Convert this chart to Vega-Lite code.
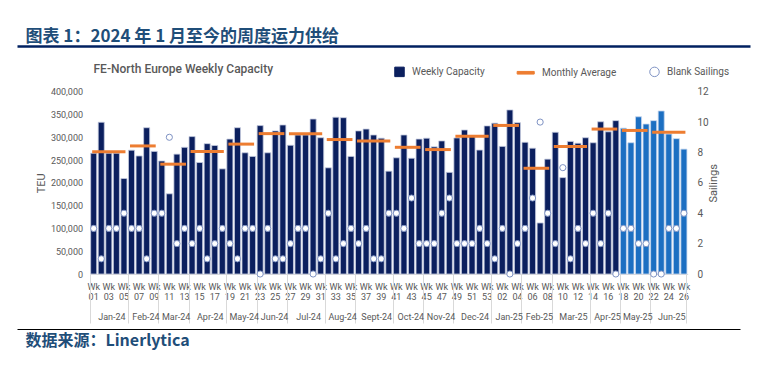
{
  "$schema": "https://vega.github.io/schema/vega-lite/v6.json",
  "width": 733,
  "height": 283,
  "autosize": {"type": "none"},
  "padding": {"left": 17, "top": 46, "right": 20, "bottom": 44},
  "background": "white",
  "config": {"view": {"stroke": null}, "axis": {"labelFont": "Roboto", "titleFont": "Roboto", "grid": false}},
  "datasets": {
    "weeks": [
      {"w": "24-01", "teu": 265000, "blank": 3, "type": "Actual"},
      {"w": "24-02", "teu": 333000, "blank": 1, "type": "Actual"},
      {"w": "24-03", "teu": 265000, "blank": 3, "type": "Actual"},
      {"w": "24-04", "teu": 265000, "blank": 3, "type": "Actual"},
      {"w": "24-05", "teu": 209500, "blank": 4, "type": "Actual"},
      {"w": "24-06", "teu": 271600, "blank": 3, "type": "Actual"},
      {"w": "24-07", "teu": 259000, "blank": 3, "type": "Actual"},
      {"w": "24-08", "teu": 321000, "blank": 1, "type": "Actual"},
      {"w": "24-09", "teu": 269000, "blank": 4, "type": "Actual"},
      {"w": "24-10", "teu": 248000, "blank": 4, "type": "Actual"},
      {"w": "24-11", "teu": 176000, "blank": 9, "type": "Actual"},
      {"w": "24-12", "teu": 263000, "blank": 2, "type": "Actual"},
      {"w": "24-13", "teu": 278000, "blank": 3, "type": "Actual"},
      {"w": "24-14", "teu": 301500, "blank": 2, "type": "Actual"},
      {"w": "24-15", "teu": 244600, "blank": 3, "type": "Actual"},
      {"w": "24-16", "teu": 286000, "blank": 1, "type": "Actual"},
      {"w": "24-17", "teu": 282000, "blank": 2, "type": "Actual"},
      {"w": "24-18", "teu": 230700, "blank": 3, "type": "Actual"},
      {"w": "24-19", "teu": 296000, "blank": 2, "type": "Actual"},
      {"w": "24-20", "teu": 321000, "blank": 1, "type": "Actual"},
      {"w": "24-21", "teu": 266000, "blank": 3, "type": "Actual"},
      {"w": "24-22", "teu": 258000, "blank": 3, "type": "Actual"},
      {"w": "24-23", "teu": 325600, "blank": 0, "type": "Actual"},
      {"w": "24-24", "teu": 266000, "blank": 3, "type": "Actual"},
      {"w": "24-25", "teu": 314000, "blank": 1, "type": "Actual"},
      {"w": "24-26", "teu": 327000, "blank": 1, "type": "Actual"},
      {"w": "24-27", "teu": 282500, "blank": 2, "type": "Actual"},
      {"w": "24-28", "teu": 305000, "blank": 3, "type": "Actual"},
      {"w": "24-29", "teu": 305000, "blank": 3, "type": "Actual"},
      {"w": "24-30", "teu": 340000, "blank": 0, "type": "Actual"},
      {"w": "24-31", "teu": 299000, "blank": 1, "type": "Actual"},
      {"w": "24-32", "teu": 233000, "blank": 4, "type": "Actual"},
      {"w": "24-33", "teu": 344000, "blank": 1, "type": "Actual"},
      {"w": "24-34", "teu": 343000, "blank": 2, "type": "Actual"},
      {"w": "24-35", "teu": 258000, "blank": 3, "type": "Actual"},
      {"w": "24-36", "teu": 314000, "blank": 2, "type": "Actual"},
      {"w": "24-37", "teu": 318000, "blank": 3, "type": "Actual"},
      {"w": "24-38", "teu": 305000, "blank": 1, "type": "Actual"},
      {"w": "24-39", "teu": 298000, "blank": 1, "type": "Actual"},
      {"w": "24-40", "teu": 225600, "blank": 4, "type": "Actual"},
      {"w": "24-41", "teu": 255000, "blank": 4, "type": "Actual"},
      {"w": "24-42", "teu": 305000, "blank": 3, "type": "Actual"},
      {"w": "24-43", "teu": 254000, "blank": 5, "type": "Actual"},
      {"w": "24-44", "teu": 296000, "blank": 2, "type": "Actual"},
      {"w": "24-45", "teu": 298000, "blank": 2, "type": "Actual"},
      {"w": "24-46", "teu": 279000, "blank": 2, "type": "Actual"},
      {"w": "24-47", "teu": 292000, "blank": 4, "type": "Actual"},
      {"w": "24-48", "teu": 223000, "blank": 5, "type": "Actual"},
      {"w": "24-49", "teu": 298600, "blank": 2, "type": "Actual"},
      {"w": "24-50", "teu": 316000, "blank": 2, "type": "Actual"},
      {"w": "24-51", "teu": 304000, "blank": 2, "type": "Actual"},
      {"w": "24-52", "teu": 272000, "blank": 3, "type": "Actual"},
      {"w": "24-53", "teu": 325000, "blank": 2, "type": "Actual"},
      {"w": "25-01", "teu": 331000, "blank": 1, "type": "Actual"},
      {"w": "25-02", "teu": 280000, "blank": 3, "type": "Actual"},
      {"w": "25-03", "teu": 360000, "blank": 0, "type": "Actual"},
      {"w": "25-04", "teu": 332000, "blank": 2, "type": "Actual"},
      {"w": "25-05", "teu": 289000, "blank": 3, "type": "Actual"},
      {"w": "25-06", "teu": 276000, "blank": 5, "type": "Actual"},
      {"w": "25-07", "teu": 112000, "blank": 10, "type": "Actual"},
      {"w": "25-08", "teu": 252000, "blank": 4, "type": "Actual"},
      {"w": "25-09", "teu": 311000, "blank": 2, "type": "Actual"},
      {"w": "25-10", "teu": 211500, "blank": 7, "type": "Actual"},
      {"w": "25-11", "teu": 291000, "blank": 1, "type": "Actual"},
      {"w": "25-12", "teu": 287000, "blank": 3, "type": "Actual"},
      {"w": "25-13", "teu": 299000, "blank": 2, "type": "Actual"},
      {"w": "25-14", "teu": 288000, "blank": 4, "type": "Actual"},
      {"w": "25-15", "teu": 334000, "blank": 2, "type": "Actual"},
      {"w": "25-16", "teu": 312000, "blank": 4, "type": "Actual"},
      {"w": "25-17", "teu": 336500, "blank": 0, "type": "Actual"},
      {"w": "25-18", "teu": 320000, "blank": 3, "type": "Forecast"},
      {"w": "25-19", "teu": 288000, "blank": 3, "type": "Forecast"},
      {"w": "25-20", "teu": 345000, "blank": 2, "type": "Forecast"},
      {"w": "25-21", "teu": 329000, "blank": 2, "type": "Forecast"},
      {"w": "25-22", "teu": 336500, "blank": 0, "type": "Forecast"},
      {"w": "25-23", "teu": 357700, "blank": 0, "type": "Forecast"},
      {"w": "25-24", "teu": 307000, "blank": 3, "type": "Forecast"},
      {"w": "25-25", "teu": 297000, "blank": 3, "type": "Forecast"},
      {"w": "25-26", "teu": 274000, "blank": 4, "type": "Forecast"}
    ],
    "months": [
      {"month": "Jan-24", "start": "24-01", "end": "24-05", "avg": 268000},
      {"month": "Feb-24", "start": "24-06", "end": "24-09", "avg": 281000},
      {"month": "Mar-24", "start": "24-10", "end": "24-13", "avg": 241000},
      {"month": "Apr-24", "start": "24-14", "end": "24-18", "avg": 269000},
      {"month": "May-24", "start": "24-19", "end": "24-22", "avg": 285000},
      {"month": "Jun-24", "start": "24-23", "end": "24-26", "avg": 308000},
      {"month": "Jul-24", "start": "24-27", "end": "24-31", "avg": 308000},
      {"month": "Aug-24", "start": "24-32", "end": "24-35", "avg": 295000},
      {"month": "Sept-24", "start": "24-36", "end": "24-40", "avg": 292000},
      {"month": "Oct-24", "start": "24-41", "end": "24-44", "avg": 278000},
      {"month": "Nov-24", "start": "24-45", "end": "24-48", "avg": 273000},
      {"month": "Dec-24", "start": "24-49", "end": "24-53", "avg": 302000},
      {"month": "Jan-25", "start": "25-01", "end": "25-04", "avg": 326000},
      {"month": "Feb-25", "start": "25-05", "end": "25-08", "avg": 232000},
      {"month": "Mar-25", "start": "25-09", "end": "25-13", "avg": 280000},
      {"month": "Apr-25", "start": "25-14", "end": "25-17", "avg": 318000},
      {"month": "May-25", "start": "25-18", "end": "25-21", "avg": 315000},
      {"month": "Jun-25", "start": "25-22", "end": "25-26", "avg": 311000}
    ]
  },
  "layer": [
    {
      "layer": [
        {
          "layer": [
            {
              "data": {"name": "weeks"},
              "transform": [{"filter": "datum.type == 'Actual'"}],
              "mark": {"type": "bar", "color": "#0b1f5e", "stroke": "#c5cbe0", "strokeWidth": 0.8},
              "encoding": {
                "x": {"field": "w", "type": "ordinal", "sort": "ascending",
                  "scale": {"range": [72.9, 670.7], "paddingInner": 0.2, "paddingOuter": 0.1},
                  "axis": {"orient": "bottom", "offset": -55, "title": null, "ticks": false, "domain": true, "domainColor": "#d9d9d9", "labelAngle": 0, "labelFontSize": 9, "labelColor": "#595959", "labelPadding": 8, "labelLineHeight": 10, "labelOverlap": false, "labelFlush": false, "labelBound": false,
                    "labelExpr": "(toNumber(slice(datum.value,3)) % 2) == (slice(datum.value,0,2) == '24' ? 1 : 0) ? ['Wk', slice(datum.value,3)] : ''"}},
                "y": {"field": "teu", "type": "quantitative",
                  "scale": {"domain": [0, 400000], "range": [228, 45.7], "nice": false},
                  "axis": {"orient": "left", "offset": -72.5, "values": [0, 50000, 100000, 150000, 200000, 250000, 300000, 350000, 400000], "labelExpr": "format(datum.value, ',')", "ticks": false, "domain": false, "grid": false, "labelFontSize": 9, "labelColor": "#595959", "labelPadding": 7, "title": "TEU", "titleColor": "#595959", "titleFontSize": 11, "titleFontWeight": "normal", "titlePadding": 4}}
              }
            },
            {
              "data": {"name": "weeks"},
              "transform": [{"filter": "datum.type == 'Forecast'"}],
              "mark": {"type": "bar", "color": "#1c6fc2", "stroke": "#c5d6ee", "strokeWidth": 0.8},
              "encoding": {
                "x": {"field": "w", "type": "ordinal", "axis": null},
                "y": {"field": "teu", "type": "quantitative",
                  "axis": {"orient": "left", "offset": -72.5, "values": [0, 50000, 100000, 150000, 200000, 250000, 300000, 350000, 400000], "labelExpr": "format(datum.value, ',')", "ticks": false, "domain": false, "grid": false, "labelFontSize": 9, "labelColor": "#595959", "labelPadding": 7, "title": "TEU", "titleColor": "#595959", "titleFontSize": 11, "titleFontWeight": "normal", "titlePadding": 4}}
              }
            },
            {
              "data": {"name": "months"},
              "mark": {"type": "rule", "color": "#ed7d31", "strokeWidth": 3, "strokeCap": "square"},
              "encoding": {
                "x": {"field": "start", "type": "ordinal",
                  "axis": {"orient": "bottom", "offset": -55, "title": null, "domain": false, "ticks": true, "tickSize": 49, "tickColor": "#d9d9d9", "tickWidth": 1, "bandPosition": 0,
                    "values": ["24-01", "24-06", "24-10", "24-14", "24-19", "24-23", "24-27", "24-32", "24-36", "24-41", "24-45", "24-49", "25-01", "25-05", "25-09", "25-14", "25-18", "25-22"],
                    "labelAngle": 0, "labelAlign": "center", "labelBaseline": "top", "labelFontSize": 9, "labelColor": "#595959", "labelPadding": -11, "labelOverlap": false, "labelFlush": false, "labelBound": false,
                    "labelOffset": {"condition": {"test": "indexof(['24-01','24-14','24-27','24-36','24-49','25-09','25-22'], datum.value) >= 0", "value": 18.2}, "value": 14.4},
                    "labelExpr": "({'24-01':'Jan-24','24-06':'Feb-24','24-10':'Mar-24','24-14':'Apr-24','24-19':'May-24','24-23':'Jun-24','24-27':'Jul-24','24-32':'Aug-24','24-36':'Sept-24','24-41':'Oct-24','24-45':'Nov-24','24-49':'Dec-24','25-01':'Jan-25','25-05':'Feb-25','25-09':'Mar-25','25-14':'Apr-25','25-18':'May-25','25-22':'Jun-25'})[datum.value]"}},
                "x2": {"field": "end"},
                "y": {"field": "avg", "type": "quantitative",
                  "axis": {"orient": "left", "offset": -72.5, "values": [0, 50000, 100000, 150000, 200000, 250000, 300000, 350000, 400000], "labelExpr": "format(datum.value, ',')", "ticks": false, "domain": false, "grid": false, "labelFontSize": 9, "labelColor": "#595959", "labelPadding": 7, "title": "TEU", "titleColor": "#595959", "titleFontSize": 11, "titleFontWeight": "normal", "titlePadding": 4}}
              }
            }
          ],
          "resolve": {"axis": {"x": "independent"}}
        },
        {
          "data": {"name": "weeks"},
          "mark": {"type": "point", "filled": true, "fill": "white", "stroke": "#7f93c4", "strokeWidth": 1, "size": 38, "opacity": 1},
          "encoding": {
            "x": {"field": "w", "type": "ordinal",
              "axis": {"orient": "bottom", "offset": -55, "title": null, "values": ["25-26"], "bandPosition": 1, "labels": false, "domain": false, "ticks": true, "tickSize": 49, "tickColor": "#d9d9d9", "tickWidth": 1}},
            "y": {"field": "blank", "type": "quantitative",
              "scale": {"domain": [0, 12], "range": [228, 45.7], "nice": false},
              "axis": {"orient": "right", "offset": -61, "values": [0, 2, 4, 6, 8, 10, 12], "ticks": false, "domain": false, "grid": false, "labelFontSize": 10, "labelColor": "#595959", "labelPadding": 8, "title": "Sailings", "titleAngle": -90, "titleColor": "#595959", "titleFontSize": 11, "titleFontWeight": "normal", "titlePadding": 10}}
          }
        }
      ],
      "resolve": {"scale": {"y": "independent"}, "axis": {"x": "independent", "y": "independent"}}
    },
    {
      "data": {"values": [{"s": "Weekly Capacity"}, {"s": "Monthly Average"}, {"s": "Blank Sailings"}]},
      "mark": {"type": "point", "filled": true, "opacity": 0},
      "encoding": {
        "shape": {"field": "s", "type": "nominal",
          "scale": {"domain": ["Weekly Capacity", "Monthly Average", "Blank Sailings"], "range": ["square", "M-2.6,-0.28H1V0.28H-2.6Z", "circle"]},
          "legend": {"title": null, "orient": "none", "legendX": 377, "legendY": 20, "direction": "horizontal", "symbolSize": 90, "symbolStrokeWidth": 1, "symbolOpacity": 1, "labelFontSize": 10, "labelFont": "Roboto", "labelColor": "#595959", "columnPadding": 30, "labelOffset": 7}},
        "fill": {"field": "s", "type": "nominal",
          "scale": {"domain": ["Weekly Capacity", "Monthly Average", "Blank Sailings"], "range": ["#0b1f5e", "#ed7d31", "#ffffff"]},
          "legend": {"title": null, "orient": "none", "legendX": 377, "legendY": 20, "direction": "horizontal", "symbolSize": 90, "symbolStrokeWidth": 1, "symbolOpacity": 1, "labelFontSize": 10, "labelFont": "Roboto", "labelColor": "#595959", "columnPadding": 30, "labelOffset": 7}},
        "stroke": {"field": "s", "type": "nominal",
          "scale": {"domain": ["Weekly Capacity", "Monthly Average", "Blank Sailings"], "range": ["#0b1f5e", "#ed7d31", "#7f93c4"]},
          "legend": {"title": null, "orient": "none", "legendX": 377, "legendY": 20, "direction": "horizontal", "symbolSize": 90, "symbolStrokeWidth": 1, "symbolOpacity": 1, "labelFontSize": 10, "labelFont": "Roboto", "labelColor": "#595959", "columnPadding": 30, "labelOffset": 7}}
      }
    },
    {
      "data": {"values": [{"u": 0}, {"u": 1}]},
      "mark": {"type": "point", "opacity": 0},
      "encoding": {
        "x": {"field": "u", "type": "quantitative", "scale": {"domain": [0, 1], "range": [0, 733]},
          "axis": {"orient": "top", "domain": true, "domainColor": "#002060", "domainWidth": 2.5, "ticks": false, "labels": false, "grid": false,
            "title": "图表 1：2024 年 1 月至今的周度运力供给", "titleFont": "Noto Sans CJK SC", "titleFontSize": 17, "titleFontWeight": "bold", "titleColor": "#1f4e79", "titleAnchor": "start", "titleAlign": "left", "titleBaseline": "bottom", "titleX": 8, "titleY": -1}}
      }
    },
    {
      "data": {"values": [{"t": 0}, {"t": 1}]},
      "mark": {"type": "point", "opacity": 0},
      "encoding": {
        "x": {"field": "t", "type": "quantitative", "scale": {"domain": [0, 1], "range": [0, 733]},
          "axis": {"orient": "top", "offset": -30, "domain": false, "ticks": false, "labels": false, "grid": false,
            "title": "FE-North Europe Weekly Capacity", "titleFont": "Roboto", "titleFontSize": 12, "titleFontWeight": 500, "titleColor": "#595959", "titleAnchor": "start", "titleAlign": "left", "titleBaseline": "bottom", "titleX": 76, "titleY": -1}}
      }
    },
    {
      "data": {"values": [{"v": 0}, {"v": 1}]},
      "mark": {"type": "point", "opacity": 0},
      "encoding": {
        "x": {"field": "v", "type": "quantitative", "scale": {"domain": [0, 1], "range": [0, 723]},
          "axis": {"orient": "bottom", "offset": 0, "domain": true, "domainColor": "#000000", "domainWidth": 1, "ticks": false, "labels": false, "grid": false,
            "title": "数据来源：Linerlytica", "titleFont": "Noto Sans CJK SC", "titleFontSize": 16, "titleFontWeight": "bold", "titleColor": "#1f4e79", "titleAnchor": "start", "titleAlign": "left", "titleBaseline": "top", "titleX": 8, "titleY": 3}}
      }
    }
  ],
  "resolve": {"scale": {"x": "independent", "y": "independent"}, "axis": {"x": "independent", "y": "independent"}}
}
